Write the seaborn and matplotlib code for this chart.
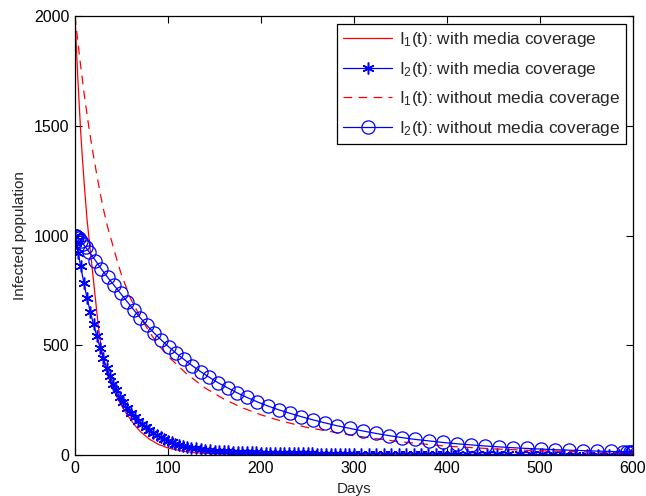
import matplotlib
matplotlib.use("Agg")
import matplotlib.pyplot as plt
import seaborn as sns
import pandas as pd

# ---------------- data ----------------
# I1(t) with media coverage (red solid)
i1_with_t = [0, 1, 2, 3, 4, 5, 6, 8, 10, 13, 16, 19, 22, 25, 28, 31, 35, 40, 45, 50,
             55, 60, 65, 70, 80, 90, 100, 115, 130, 150, 175, 200, 250, 300, 400, 500, 600]
i1_with_y = [2000, 1900, 1810, 1720, 1640, 1560, 1480, 1350, 1230, 1070, 950, 830, 710,
             590, 495, 425, 365, 310, 265, 225, 190, 160, 132, 108, 72, 48, 32, 18, 10,
             5, 3, 2, 1, 0.5, 0.2, 0.1, 0.05]

# I2(t) with media coverage (blue, asterisks)
i2_with_t = [0, 1.5, 3.5, 6, 9.5, 13, 16.5, 20, 23.5, 27, 30.5, 34, 37.5, 41, 44.5, 48,
             52, 56, 60, 64, 68, 72, 76, 80, 84, 88, 92, 96, 100, 104, 108, 112, 116,
             120, 125, 130, 135, 140, 145, 150, 155, 160, 165, 170, 175, 180, 185, 190,
             195, 200, 205, 210, 215, 220, 225, 230, 235, 240, 245, 250, 255, 260, 265,
             270, 275, 280, 285, 290, 295, 300, 308, 316, 324, 332, 340, 348, 356, 364,
             372, 380, 388, 396, 404, 412, 422, 432, 443, 454, 466, 478, 490, 502, 514,
             526, 538, 550, 562, 574, 585, 592, 596, 598, 600]
i2_with_y = [1000, 965, 920, 860, 785, 715, 650, 595, 540, 488, 440, 398, 360, 325, 295,
             265, 240, 215, 192, 173, 155, 140, 126, 113, 101, 91, 82, 73, 65, 58, 52,
             47, 42, 38, 34, 30, 27, 24, 22, 20, 18.5, 17, 16, 15, 14, 13, 12.5, 12,
             11.5, 11, 10.5, 10, 9.6, 9.2, 8.8, 8.5, 8.2, 7.9, 7.6, 7.3, 7, 6.8, 6.6,
             6.4, 6.2, 6, 5.8, 5.6, 5.4, 5.2, 5, 4.8, 4.6, 4.4, 4.2, 4, 3.9, 3.8, 3.7,
             3.6, 3.5, 3.4, 3.3, 3.2, 3.1, 3, 2.9, 2.8, 2.7, 2.6, 2.5, 2.4, 2.3, 2.2,
             2.1, 2, 1.9, 1.8, 1.7, 1.7, 1.6, 1.6, 1.6]

# I1(t) without media coverage (red dashed)
i1_without_t = [0, 5, 10, 15, 20, 25, 30, 35, 40, 45, 50, 60, 70, 80, 90, 100, 120, 140,
                160, 180, 200, 220, 250, 300, 350, 400, 450, 500, 550, 600]
i1_without_y = [2000, 1810, 1640, 1490, 1360, 1240, 1130, 1040, 965, 890, 820, 710, 630,
                560, 500, 450, 370, 305, 255, 215, 183, 157, 125, 88, 60, 40, 28, 19,
                14, 10]

# I2(t) without media coverage (blue, circles)
i2_without_t = [0, 0.6, 1.4, 2.5, 4, 6, 8.5, 11.5, 15, 22, 28, 35, 42, 49, 56, 63, 70,
                77, 85, 93, 101, 109, 117, 126, 135, 144, 154, 164, 174, 185, 196, 207,
                219, 231, 243, 256, 269, 282, 296, 310, 324, 338, 352, 366, 381, 396,
                411, 426, 441, 456, 471, 486, 501, 516, 531, 546, 561, 576, 589, 594,
                597, 599, 600]
i2_without_y = [1000, 999, 997, 993, 987, 977, 963, 946, 926, 886, 849, 810, 773, 736,
                699, 662, 626, 592, 556, 523, 492, 463, 436, 407, 380, 355, 329, 306,
                284, 262, 242, 224, 206, 190, 175, 160, 146, 133, 121, 109, 98, 88, 79,
                71, 64, 57, 51, 46, 41, 37, 33, 30, 27, 24, 22, 20, 18, 16, 15, 14.5,
                14.2, 14, 14]

labels = [r"I$_1$(t): with media coverage",
          r"I$_2$(t): with media coverage",
          r"I$_1$(t): without media coverage",
          r"I$_2$(t): without media coverage"]
x_ticks = [0, 100, 200, 300, 400, 500, 600]
y_ticks = [0, 500, 1000, 1500, 2000]

# ---------------- style ----------------
sns.set_style("ticks")
plt.rcParams["font.family"] = ["Liberation Sans", "DejaVu Sans"]
plt.rcParams["mathtext.fontset"] = "custom"
plt.rcParams["mathtext.rm"] = "Liberation Sans"
plt.rcParams["mathtext.it"] = "Liberation Sans:italic"
plt.rcParams["mathtext.default"] = "regular"

fig = plt.figure(figsize=(6.46, 4.96), dpi=100)
ax = fig.add_axes([75 / 646, 1 - 455 / 496, (633 - 75) / 646, (455 - 16) / 496])

df1 = pd.DataFrame({"t": i1_with_t, "y": i1_with_y})
df2 = pd.DataFrame({"t": i2_with_t, "y": i2_with_y})
df3 = pd.DataFrame({"t": i1_without_t, "y": i1_without_y})
df4 = pd.DataFrame({"t": i2_without_t, "y": i2_without_y})

sns.lineplot(data=df1, x="t", y="y", ax=ax, color="#ff0000", linewidth=0.9,
             sort=False, estimator=None, label=labels[0])
sns.lineplot(data=df2, x="t", y="y", ax=ax, color="#0000ff", linewidth=0.9,
             marker=(6, 2, 0), markersize=8.5, markeredgewidth=1.1,
             markeredgecolor="#0000ff", sort=False, estimator=None, label=labels[1])
sns.lineplot(data=df3, x="t", y="y", ax=ax, color="#ff0000", linewidth=0.9,
             sort=False, estimator=None, label=labels[2])
sns.lineplot(data=df4, x="t", y="y", ax=ax, color="#0000ff", linewidth=0.9,
             marker="o", markersize=9.5, markerfacecolor="none",
             markeredgecolor="#0000ff", markeredgewidth=0.9,
             sort=False, estimator=None, label=labels[3])
ax.lines[2].set_linestyle((0, (7, 5)))

ax.set_xlim(0, 600)
ax.set_ylim(0, 2000)
ax.set_xticks(x_ticks)
ax.set_yticks(y_ticks)
ax.set_xticklabels([str(v) for v in x_ticks], fontsize=11.5)
ax.set_yticklabels([str(v) for v in y_ticks], fontsize=11.5)
ax.tick_params(direction="in", top=True, right=True, length=5, width=0.8,
               pad=4, colors="black")
for s in ax.spines.values():
    s.set_visible(True)
    s.set_linewidth(0.9)
    s.set_color("black")

ax.set_xlabel("Days", fontsize=11)
ax.set_ylabel("Infected population", fontsize=11)
ax.xaxis.set_label_coords(0.5, -0.062)
ax.yaxis.set_label_coords(-0.086, 0.5)

leg = ax.legend(loc="upper right", bbox_to_anchor=((626 - 75) / 558, (455 - 24) / 439),
                borderaxespad=0, frameon=True, fancybox=False, fontsize=12.4,
                handlelength=2.9, handletextpad=0.35, labelspacing=0.62,
                borderpad=0.35)
leg.get_frame().set_edgecolor("black")
leg.get_frame().set_linewidth(0.9)
leg.get_frame().set_alpha(1)
leg.get_lines()[2].set_linestyle((0, (7, 5)))

fig.savefig("out.png", dpi=100)
